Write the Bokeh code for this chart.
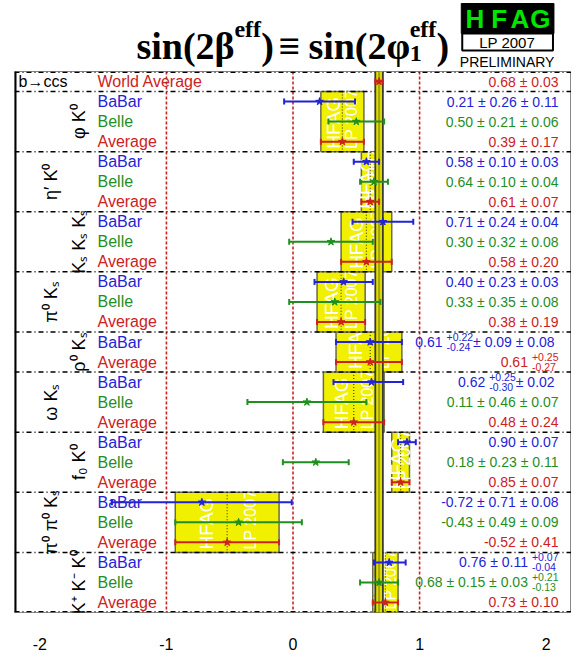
import math
from bokeh.plotting import figure
from bokeh.models import ColumnDataSource, Range1d, FixedTicker
from bokeh.layouts import column
from bokeh.embed import file_html
from bokeh.resources import INLINE
from bokeh.core.properties import value

# ---------------- data ----------------
world_average = 0.68
world_average_err = 0.03

mode_labels = ["φ K⁰", "η′ K⁰", "Kₛ Kₛ Kₛ", "π⁰ Kₛ", "ρ⁰ Kₛ", "ω Kₛ", "f₀ K⁰", "π⁰ π⁰ Kₛ", "K⁺ K⁻ K⁰"]
mode_rows = [3, 3, 3, 3, 2, 3, 3, 3, 3]
mode_avg = [0.39, 0.61, 0.58, 0.38, 0.61, 0.48, 0.85, -0.52, 0.73]
mode_avg_lo = [0.17, 0.07, 0.20, 0.19, 0.27, 0.24, 0.07, 0.41, 0.10]
mode_avg_hi = [0.17, 0.07, 0.20, 0.19, 0.25, 0.24, 0.07, 0.41, 0.10]

row_labels = (["World Average"] + ["BaBar", "Belle", "Average"] * 4 + ["BaBar", "Average"]
              + ["BaBar", "Belle", "Average"] * 4)
row_values = [0.68, 0.21, 0.50, 0.39, 0.58, 0.64, 0.61, 0.71, 0.30, 0.58, 0.40, 0.33, 0.38,
              0.61, 0.61, 0.62, 0.11, 0.48, 0.90, 0.18, 0.85, -0.72, -0.43, -0.52, 0.76, 0.68, 0.73]
row_err_lo = [0.03, 0.28, 0.22, 0.17, 0.10, 0.11, 0.07, 0.24, 0.33, 0.20, 0.23, 0.36, 0.19,
              0.27, 0.27, 0.30, 0.47, 0.24, 0.07, 0.26, 0.07, 0.71, 0.50, 0.41, 0.12, 0.15, 0.10]
row_err_hi = [0.03, 0.28, 0.22, 0.17, 0.10, 0.11, 0.07, 0.24, 0.33, 0.20, 0.23, 0.36, 0.19,
              0.25, 0.25, 0.25, 0.47, 0.24, 0.07, 0.26, 0.07, 0.71, 0.50, 0.41, 0.13, 0.15, 0.10]
row_text = ["0.68 ± 0.03",
            "0.21 ± 0.26 ± 0.11", "0.50 ± 0.21 ± 0.06", "0.39 ± 0.17",
            "0.58 ± 0.10 ± 0.03", "0.64 ± 0.10 ± 0.04", "0.61 ± 0.07",
            "0.71 ± 0.24 ± 0.04", "0.30 ± 0.32 ± 0.08", "0.58 ± 0.20",
            "0.40 ± 0.23 ± 0.03", "0.33 ± 0.35 ± 0.08", "0.38 ± 0.19",
            "0.61", "0.61",
            "0.62", "0.11 ± 0.46 ± 0.07", "0.48 ± 0.24",
            "0.90 ± 0.07", "0.18 ± 0.23 ± 0.11", "0.85 ± 0.07",
            "-0.72 ± 0.71 ± 0.08", "-0.43 ± 0.49 ± 0.09", "-0.52 ± 0.41",
            "0.76 ± 0.11", "0.68 ± 0.15 ± 0.03", "0.73 ± 0.10"]
row_text_sup = [""] * 13 + ["+0.22", "+0.25", "+0.25"] + [""] * 8 + ["+0.07", "+0.21", ""]
row_text_sub = [""] * 13 + ["-0.24", "-0.27", "-0.30"] + [""] * 8 + ["-0.04", "-0.13", ""]
row_text_tail = [""] * 13 + [" ± 0.09 ± 0.08", "", " ± 0.02"] + [""] * 11
x_ticks = [-2, -1, 0, 1, 2]
x_tick_labels = ["-2", "-1", "0", "1", "2"]
ref_lines = [-1, 0, 1]

# ---------------- styling / geometry ----------------
BLUE = "#2323d6"
GREEN = "#1f8f1f"
RED = "#cc2222"
YELLOW = "#f0f000"
label_color = {"BaBar": BLUE, "Belle": GREEN, "Average": RED, "World Average": RED}
SANS = "Liberation Sans"
SERIF = "Liberation Serif"

W = 571
TITLE_H = 70
MAIN_H = 582
X0, X1 = -2.2, 2.2
NROWS = len(row_labels)
PX = 557.0 / (X1 - X0)          # pixels per data unit
RPX = 541.0 / NROWS             # pixels per row


def px2x(px):                   # page pixel -> data x
    return X0 + (px - 14.0) / PX


def pxrows(px):                 # pixel distance -> rows
    return px / RPX


ARIAL = {'.': 278, ' ': 278, '±': 549, '+': 584, '-': 333}


def tw(s, size):
    return sum(ARIAL.get(c, 556) for c in s) * size / 1000.0


# ---------------- title figure ----------------
t = figure(width=W, height=TITLE_H, x_range=Range1d(0, W), y_range=Range1d(TITLE_H, 0),
           toolbar_location=None, output_backend="svg", min_border=0,
           x_axis_location=None, y_axis_location=None, outline_line_color=None)
t.grid.visible = False

TB = {'s': 389, 'i': 278, 'n': 556, '(': 333, ')': 333, '2': 500, 'β': 560, 'φ': 650,
      'e': 444, 'f': 333, '1': 500, ' ': 250}


def tbw(s, size):
    return sum(TB.get(c, 600) for c in s) * size / 1000.0


FM, FS = 38, 24
BASE = 45
SUPB = BASE - 17
SUBB = BASE + 8
segs = []
x = 125.0
segs.append((x, BASE, "sin(2β", FM)); x += tbw("sin(2β", FM) + 1
segs.append((x, SUPB, "eff", FS)); x += tbw("eff", FS) + 1
segs.append((x, BASE, ")", FM)); x += tbw(")", FM) + 5
segs.append((x, BASE, "≡", FM)); x += 0.62 * FM + 7
segs.append((x, BASE, "sin(2φ", FM)); x += tbw("sin(2φ", FM) + 1
segs.append((x, SUPB, "eff", FS))
segs.append((x, SUBB, "1", FS)); x += tbw("eff", FS) + 1
segs.append((x, BASE, ")", FM))
for sx, sy, s, fs in segs:
    t.text(x=[sx], y=[sy], text=[s], text_font=value(SERIF), text_font_style="bold",
           text_font_size=f"{fs}px", text_color="black", text_align="left",
           text_baseline="alphabetic")

# HFAG logo
t.quad(left=[458], right=[553], top=[3], bottom=[33], fill_color="black", line_color="black")
t.quad(left=[459], right=[552], top=[33], bottom=[50], fill_color="white", line_color="black",
       line_width=2)
t.text(x=[472, 497, 518, 539], y=[18.5] * 4, text=["H", "F", "A", "G"], text_font=value(SANS),
       text_font_style="bold", text_font_size="26px", text_color="#00e600", text_align="center",
       text_baseline="middle")
t.text(x=[505], y=[42], text=["LP 2007"], text_font=value(SANS), text_font_size="15px",
       text_color="black", text_align="center", text_baseline="middle")
t.text(x=[505], y=[61], text=["PRELIMINARY"], text_font=value(SANS), text_font_size="14px",
       text_color="black", text_align="center", text_baseline="middle")

# ---------------- main figure ----------------
p = figure(width=W, height=MAIN_H, x_range=Range1d(X0, X1), y_range=Range1d(NROWS, 0),
           toolbar_location=None, output_backend="svg", min_border_left=14, min_border_right=0,
           min_border_top=1, min_border_bottom=40, y_axis_location=None,
           outline_line_color="#888888", outline_line_width=1)
p.grid.visible = False
p.xaxis.ticker = FixedTicker(ticks=x_ticks)
p.xaxis.major_label_overrides = {k: v for k, v in zip(x_ticks, x_tick_labels)}
p.xaxis.major_tick_line_color = None
p.xaxis.minor_tick_line_color = None
p.xaxis.axis_line_color = None
p.xaxis.major_label_text_font = SANS
p.xaxis.major_label_text_font_size = "16px"
p.xaxis.major_label_text_color = "black"
p.xaxis.major_label_standoff = 19

# group boundaries
starts = []
s0 = 1
for n in mode_rows:
    starts.append(s0)
    s0 += n
ends = [s + n for s, n in zip(starts, mode_rows)]

# group average boxes, drawn bottom group first so upper boxes hide the spill of lower watermarks
for g in reversed(range(len(mode_labels))):
    lo = mode_avg[g] - mode_avg_lo[g]
    hi = mode_avg[g] + mode_avg_hi[g]
    p.quad(left=[lo], right=[hi], top=[starts[g]], bottom=[ends[g]], fill_color=YELLOW,
           line_color="#6a6a50", line_width=1.5)
    yb = ends[g] - pxrows(3)
    p.text(x=[lo + 0.30 * (hi - lo)], y=[yb], text=["HFAG"], angle=math.pi / 2,
           text_font=value(SANS), text_font_size="19px", text_color="white",
           text_align="left", text_baseline="middle")
    p.text(x=[lo + 0.72 * (hi - lo)], y=[yb], text=["LP 2007"], angle=math.pi / 2,
           text_font=value(SANS), text_font_size="16px", text_color="white",
           text_align="left", text_baseline="middle")

# dotted line at each group average
p.segment(x0=mode_avg, x1=mode_avg, y0=starts, y1=ends, line_color="#4a4a00",
          line_width=1.2, line_dash="1 2")

# reference red lines
p.segment(x0=ref_lines, x1=ref_lines, y0=[0] * len(ref_lines), y1=[NROWS] * len(ref_lines),
          line_color=RED, line_width=1.6, line_dash="3 2")

# separators
seps = [1] + ends[:-1]
p.segment(x0=[X0] * len(seps), x1=[X1] * len(seps), y0=seps, y1=seps, line_color="black",
          line_width=1.5, line_dash="5 3 1 3")
p.segment(x0=[X0, X0], x1=[X1, X1], y0=[pxrows(0.7), NROWS - pxrows(0.7)],
          y1=[pxrows(0.7), NROWS - pxrows(0.7)], line_color="black", line_width=1.5,
          line_dash="5 3 1 3")
p.segment(x0=[px2x(15)], x1=[px2x(15)], y0=[0], y1=[NROWS], line_color="black", line_width=2)

# world average band
wl, wh = world_average - world_average_err, world_average + world_average_err
p.quad(left=[wl], right=[wh], top=[0], bottom=[NROWS], fill_color="#dede00", line_color=None)
p.segment(x0=[wl, wh], x1=[wl, wh], y0=[0, 0], y1=[NROWS, NROWS], line_color="#3c3c30",
          line_width=1.8)
p.segment(x0=[world_average], x1=[world_average], y0=[0], y1=[NROWS], line_color="#6e6e10",
          line_width=2, line_dash="1 1")

# error bars
ys = [i + 0.5 for i in range(NROWS)]
cols = [label_color[l] for l in row_labels]
los = [v - e for v, e in zip(row_values, row_err_lo)]
his = [v + e for v, e in zip(row_values, row_err_hi)]
src = ColumnDataSource(dict(y=ys, v=row_values, lo=los, hi=his, c=cols,
                            ya=[y - pxrows(3) for y in ys], yb=[y + pxrows(3) for y in ys]))
p.segment(x0="lo", x1="hi", y0="y", y1="y", line_color="c", line_width=2, source=src)
p.segment(x0="lo", x1="lo", y0="ya", y1="yb", line_color="c", line_width=2, source=src)
p.segment(x0="hi", x1="hi", y0="ya", y1="yb", line_color="c", line_width=2, source=src)
p.scatter(x="v", y="y", marker="star", size=8, fill_color="c", line_color="c", source=src)

# left labels
p.text(x=[px2x(97)] * NROWS, y=ys, text=row_labels, text_color=cols, text_font=value(SANS),
       text_font_size="16px", text_align="left", text_baseline="middle")
p.text(x=[px2x(18)], y=[0.5], text=["b→ccs"], text_color="black", text_font=value(SANS),
       text_font_size="16px", text_align="left", text_baseline="middle")

# decay-mode labels (rotated)
mx = [px2x(78) if g % 2 == 0 else px2x(50) for g in range(len(mode_labels))]
my = [(s + e) / 2 for s, e in zip(starts, ends)]
p.text(x=mx, y=my, text=mode_labels, angle=math.pi / 2, text_color="black",
       text_font=value(SANS), text_font_size="18px", text_align="center",
       text_baseline="alphabetic")

# right value texts
R = 558.0
SS = 10.5
hx, hy, ht, hc = [], [], [], []
sx, sy, st, sc = [], [], [], []
for i in range(NROWS):
    y = ys[i]
    c = cols[i]
    if row_text_sup[i] == "":
        hx.append(px2x(R)); hy.append(y); ht.append(row_text[i]); hc.append(c)
        continue
    tail = row_text_tail[i]
    sw = max(tw(row_text_sup[i], SS), tw(row_text_sub[i], SS))
    if tail:
        hx.append(px2x(R)); hy.append(y); ht.append(tail); hc.append(c)
        sl = R - tw(tail, 14) - sw
    else:
        sl = R - sw
    sx += [px2x(sl), px2x(sl)]
    sy += [y - pxrows(5), y + pxrows(5)]
    st += [row_text_sup[i], row_text_sub[i]]
    sc += [c, c]
    hx.append(px2x(sl - 4)); hy.append(y); ht.append(row_text[i]); hc.append(c)
p.text(x=hx, y=hy, text=ht, text_color=hc, text_font=value(SANS), text_font_size="14px",
       text_align="right", text_baseline="middle")
p.text(x=sx, y=sy, text=st, text_color=sc, text_font=value(SANS), text_font_size=f"{SS}px",
       text_align="left", text_baseline="middle")

layout = column(t, p, spacing=0)
open("out.html", "w").write(file_html(layout, INLINE, "sin2beta"))
